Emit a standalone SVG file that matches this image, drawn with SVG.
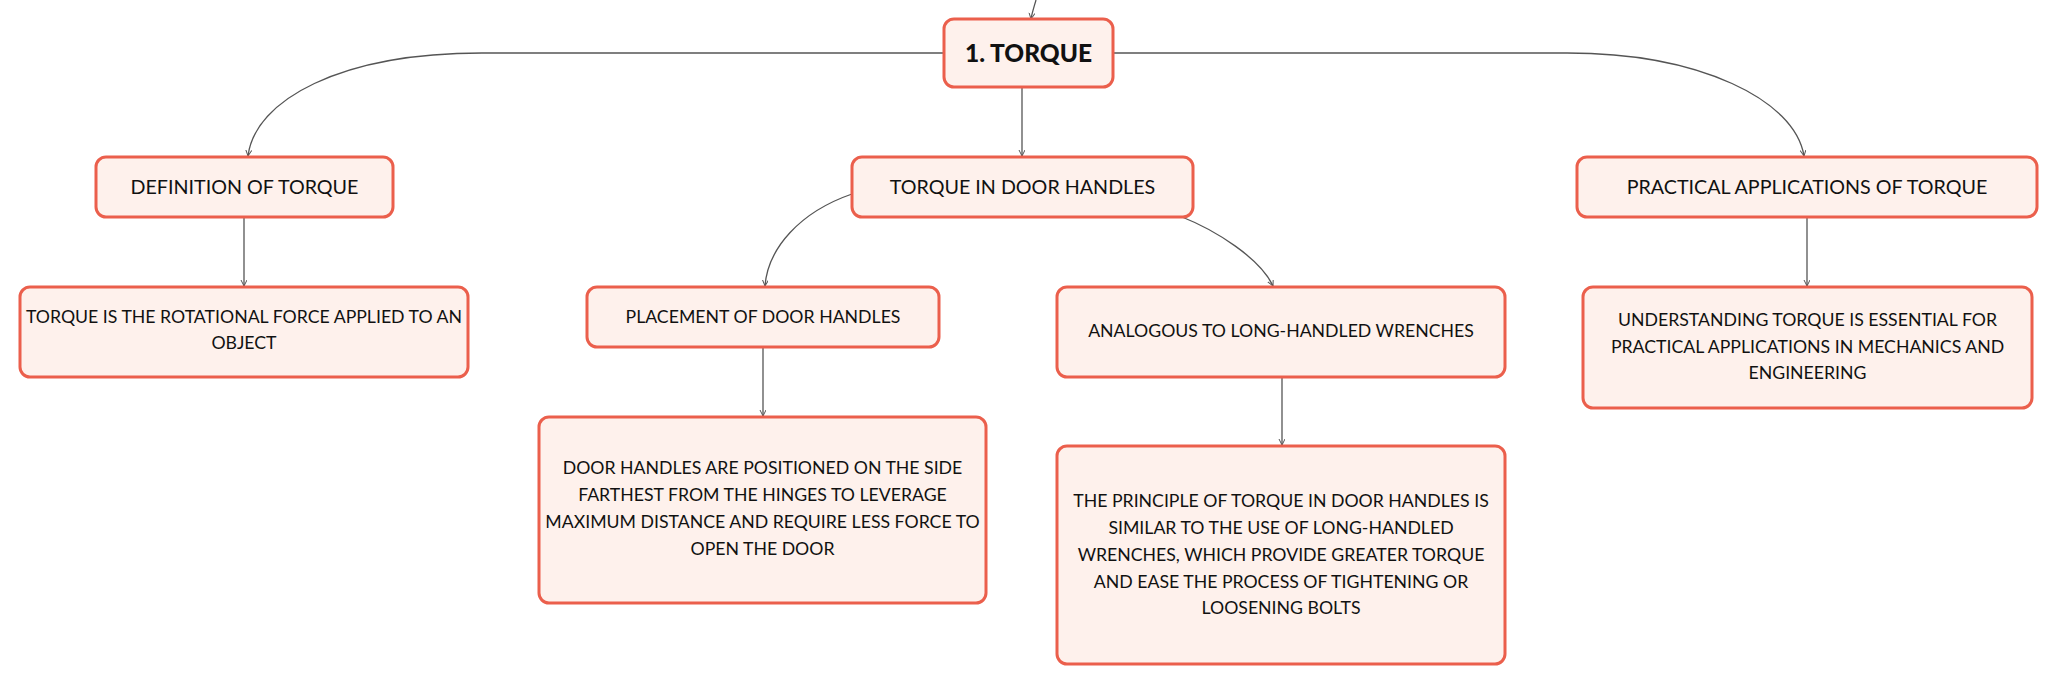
<svg xmlns="http://www.w3.org/2000/svg" width="2058" height="685" viewBox="0 0 2058 685">
<defs>
<marker id="arr" markerWidth="8" markerHeight="8" refX="6" refY="3" orient="auto" markerUnits="userSpaceOnUse">
<path d="M0,0 L6,3 L0,6" fill="none" stroke="#555" stroke-width="1"/>
</marker>
<style>
.box{fill:#FEF1EC;stroke:#EB5F4C;stroke-width:3}
.t{font-family:Lato,"Noto Sans","Liberation Sans",sans-serif;fill:#111;text-anchor:middle}
.root{font-size:24.5px;font-weight:900}
.l1{font-size:19.7px}
.l2{font-size:17.7px}
.c{fill:none;stroke:#555;stroke-width:1.3;marker-end:url(#arr)}
</style>
</defs>
<rect width="2058" height="685" fill="#fff"/>
<g id="connectors">
<path class="c" d="M1036,0 C1034,7 1032,13 1031,19"/>
<path class="c" d="M944,53 L482,53 C340,53 255,100 248,156"/>
<path class="c" d="M1113,53 L1567,53 C1700,53 1795,100 1804,156"/>
<path class="c" d="M1022,88 L1022,156"/>
<path class="c" d="M244,217 L244,286"/>
<path class="c" d="M852,194 C800,212 768,248 765,286"/>
<path class="c" d="M1182,217 C1215,230 1260,258 1273,286"/>
<path class="c" d="M763,347 L763,416"/>
<path class="c" d="M1282,377 L1282,445"/>
<path class="c" d="M1807,217 L1807,286"/>
</g>
<g id="n-root">
<rect class="box" x="944" y="19" width="169" height="68" rx="10"/>
<text class="t root" x="1028.5" y="62">1. TORQUE</text>
</g>
<g id="n-definition">
<rect class="box" x="96" y="157" width="297" height="60" rx="10"/>
<text class="t l1" x="244.5" y="194">DEFINITION OF TORQUE</text>
</g>
<g id="n-doorhandles">
<rect class="box" x="852" y="157" width="341" height="60" rx="10"/>
<text class="t l1" x="1022.5" y="194">TORQUE IN DOOR HANDLES</text>
</g>
<g id="n-practical">
<rect class="box" x="1577" y="157" width="460" height="60" rx="10"/>
<text class="t l1" x="1807" y="194">PRACTICAL APPLICATIONS OF TORQUE</text>
</g>
<g id="n-def-text">
<rect class="box" x="20" y="287" width="448" height="90" rx="10"/>
<text class="t l2" x="244" y="323">TORQUE IS THE ROTATIONAL FORCE APPLIED TO AN</text>
<text class="t l2" x="244" y="349">OBJECT</text>
</g>
<g id="n-placement">
<rect class="box" x="587" y="287" width="352" height="60" rx="10"/>
<text class="t l2" x="763" y="323">PLACEMENT OF DOOR HANDLES</text>
</g>
<g id="n-placement-text">
<rect class="box" x="539" y="417" width="447" height="186" rx="10"/>
<text class="t l2" x="762.5" y="474">DOOR HANDLES ARE POSITIONED ON THE SIDE</text>
<text class="t l2" x="762.5" y="501">FARTHEST FROM THE HINGES TO LEVERAGE</text>
<text class="t l2" x="762.5" y="528">MAXIMUM DISTANCE AND REQUIRE LESS FORCE TO</text>
<text class="t l2" x="762.5" y="555">OPEN THE DOOR</text>
</g>
<g id="n-analogous">
<rect class="box" x="1057" y="287" width="448" height="90" rx="10"/>
<text class="t l2" x="1281" y="337">ANALOGOUS TO LONG-HANDLED WRENCHES</text>
</g>
<g id="n-analogous-text">
<rect class="box" x="1057" y="446" width="448" height="218" rx="10"/>
<text class="t l2" x="1281" y="507">THE PRINCIPLE OF TORQUE IN DOOR HANDLES IS</text>
<text class="t l2" x="1281" y="534">SIMILAR TO THE USE OF LONG-HANDLED</text>
<text class="t l2" x="1281" y="561">WRENCHES, WHICH PROVIDE GREATER TORQUE</text>
<text class="t l2" x="1281" y="588">AND EASE THE PROCESS OF TIGHTENING OR</text>
<text class="t l2" x="1281" y="614">LOOSENING BOLTS</text>
</g>
<g id="n-practical-text">
<rect class="box" x="1583" y="287" width="449" height="121" rx="10"/>
<text class="t l2" x="1807.5" y="326">UNDERSTANDING TORQUE IS ESSENTIAL FOR</text>
<text class="t l2" x="1807.5" y="353">PRACTICAL APPLICATIONS IN MECHANICS AND</text>
<text class="t l2" x="1807.5" y="379">ENGINEERING</text>
</g>
</svg>
